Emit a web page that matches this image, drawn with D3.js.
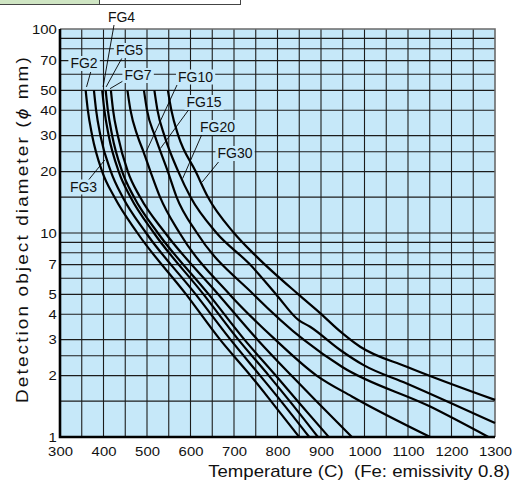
<!DOCTYPE html>
<html>
<head>
<meta charset="utf-8">
<script src="https://cdn.jsdelivr.net/npm/d3@7"></script>
<style>
  body { margin: 0; background: #fff; }
  svg { display: block; font-family: 'Liberation Sans', Arial, Helvetica, sans-serif; }
</style>
</head>
<body>
<svg id="chart" width="514" height="490"></svg>
<script>
// curve data: detection diameter (mm) vs temperature (C)
var fg2D = [50, 40, 30, 20, 15, 10, 5, 3, 2, 1.5, 1];
var fg2T = [359, 364, 374, 397, 425, 478, 590, 668, 738, 785, 850];
var fg3D = [50, 40, 30, 20, 15, 10, 5, 3, 2, 1.5, 1];
var fg3T = [378, 383, 393, 417, 444, 498, 612, 692, 760, 808, 873];
var fg4D = [50, 40, 30, 20, 15, 10, 5, 3, 2, 1.5, 1];
var fg4T = [397, 402, 412, 435, 462, 516, 630, 710, 780, 828, 893];
var fg5D = [50, 40, 30, 20, 15, 10, 5, 3, 2, 1.5, 1];
var fg5T = [405, 410, 420, 443, 470, 525, 642, 724, 796, 846, 918];
var fg7D = [50, 40, 30, 20, 15, 10, 5, 3, 2, 1.5, 1];
var fg7T = [417, 422, 433, 456, 484, 542, 664, 754, 832, 889, 971];
var fg10D = [50, 40, 30, 25, 20, 15, 10, 5, 3, 2, 1.58, 1];
var fg10T = [455, 462, 478, 492, 508, 530, 575, 690, 795, 890, 971, 1151];
var fg15D = [50, 40, 30, 20, 15, 10, 5, 3, 2.21, 1.41, 1];
var fg15T = [493, 500, 518, 548, 568, 615, 745, 860, 948, 1151, 1285];
var fg20D = [50, 40, 30, 20, 15, 10, 7, 5, 3.75, 3.47, 2.67, 2.25, 1.83, 1.17];
var fg20T = [517, 524, 540, 572, 600, 660, 737, 797, 848, 875, 944, 998, 1097, 1300];
var fg30D = [50, 40, 30, 20, 15, 10, 7.66, 5, 4.05, 3.35, 2.77, 2.21, 1.52];
var fg30T = [548, 556, 572, 612, 640, 700, 752, 848, 898, 940, 990, 1097, 1300];

var seriesNames = ['FG2', 'FG3', 'FG4', 'FG5', 'FG7', 'FG10', 'FG15', 'FG20', 'FG30'];
var seriesT = [fg2T, fg3T, fg4T, fg5T, fg7T, fg10T, fg15T, fg20T, fg30T];
var seriesD = [fg2D, fg3D, fg4D, fg5D, fg7D, fg10D, fg15D, fg20D, fg30D];

// pointer tips of the labels, in data units [temperature, diameter]
var labelTips = [[361, 52], [403, 22.8], [399, 52], [406, 52], [415, 51], [498, 25], [531, 26], [582, 18.5], [627, 17.8]];

// ticks and grid
var xTicks = [300, 400, 500, 600, 700, 800, 900, 1000, 1100, 1200, 1300];
var xGrid = [350, 400, 450, 500, 550, 600, 650, 700, 750, 800, 850, 900, 950, 1000, 1050, 1100, 1150, 1200, 1250];
var yTicks = [1, 2, 3, 4, 5, 7, 10, 20, 30, 40, 50, 70, 100];
var yGrid = [1.5, 2, 2.5, 3, 4, 5, 6, 7, 8, 9, 10, 15, 20, 25, 30, 40, 50, 60, 70, 80, 90];

var svg = d3.select('#chart');

var margin = { top: 29, right: 19, bottom: 53, left: 60 };
var width = 514 - margin.left - margin.right;
var height = 490 - margin.top - margin.bottom;

var x = d3.scaleLinear().domain([300, 1300]).range([margin.left, margin.left + width]);
var y = d3.scaleLog().domain([1, 100]).range([margin.top + height, margin.top]);

// header table strip at the very top (cut off)
svg.append('rect').attr('x', -1).attr('y', -10).attr('width', 100.5).attr('height', 14.5)
  .attr('fill', '#cfe5c3').attr('stroke', '#444').attr('stroke-width', 1);
svg.append('rect').attr('x', 99.5).attr('y', -10).attr('width', 141).attr('height', 14.5)
  .attr('fill', '#fff').attr('stroke', '#444').attr('stroke-width', 1);

// plot background
svg.append('rect')
  .attr('x', margin.left).attr('y', margin.top)
  .attr('width', width).attr('height', height)
  .attr('fill', '#c6e8f9');

// grid
var grid = svg.append('g').attr('id', 'grid');
grid.selectAll('line.gx').data(xGrid).enter().append('line')
  .attr('class', 'gx')
  .attr('x1', function(d) { return x(d); }).attr('x2', function(d) { return x(d); })
  .attr('y1', margin.top).attr('y2', margin.top + height)
  .attr('stroke', '#1c1c1c').attr('stroke-width', 1.1);
grid.selectAll('line.gy').data(yGrid).enter().append('line')
  .attr('class', 'gy')
  .attr('y1', function(d) { return y(d); }).attr('y2', function(d) { return y(d); })
  .attr('x1', margin.left).attr('x2', margin.left + width)
  .attr('stroke', '#1c1c1c').attr('stroke-width', 1.1);

// frame: gray top/right
svg.append('path')
  .attr('d', 'M' + margin.left + ',' + margin.top + 'H' + (margin.left + width) + 'V' + (margin.top + height))
  .attr('fill', 'none').attr('stroke', '#6a6a6a').attr('stroke-width', 1.6);

// curves
var line = d3.line()
  .x(function(d) { return x(d[0]); })
  .y(function(d) { return y(d[1]); })
  .curve(d3.curveMonotoneX);

var curves = svg.append('g').attr('id', 'curves');
seriesNames.forEach(function(name, i) {
  var pts = seriesT[i].map(function(t, j) { return [t, seriesD[i][j]]; });
  curves.append('path')
    .datum(pts)
    .attr('d', line)
    .attr('fill', 'none')
    .attr('stroke', '#000')
    .attr('stroke-width', 2.2)
    .attr('stroke-linejoin', 'round');
});

// heavy black left/bottom axis lines
svg.append('path')
  .attr('d', 'M' + margin.left + ',' + margin.top + 'V' + (margin.top + height) + 'H' + (margin.left + width))
  .attr('fill', 'none').attr('stroke', '#000').attr('stroke-width', 2.6);

// axes
var xAxis = d3.axisBottom(x).tickValues(xTicks).tickFormat(d3.format('d')).tickSize(0).tickPadding(9.5);
var xGroup = svg.append('g').attr('transform', 'translate(0,' + (margin.top + height) + ')').call(xAxis);
xGroup.select('.domain').remove();
xGroup.selectAll('text')
  .style('font-size', '13.5px')
  .style('font-family', "'Liberation Sans', Arial, sans-serif")
  .attr('fill', '#111')
  .attr('transform', 'scale(1.1,1)');

var yAxis = d3.axisLeft(y).tickValues(yTicks).tickFormat(d3.format('d')).tickSize(0).tickPadding(3);
var yGroup = svg.append('g').attr('transform', 'translate(' + margin.left + ',0)').call(yAxis);
yGroup.select('.domain').remove();
yGroup.selectAll('text')
  .style('font-size', '13.5px')
  .style('font-family', "'Liberation Sans', Arial, sans-serif")
  .attr('fill', '#111')
  .attr('transform', 'scale(1.1,1)');

// axis titles (the original lettering is wide, so fit it to its measured length)
var xTitle = svg.append('text')
  .text('Temperature (C)  (Fe: emissivity 0.8)')
  .attr('text-anchor', 'end')
  .attr('xml:space', 'preserve')
  .style('font-size', '16px')
  .style('fill', '#111');
var xw = xTitle.node().getComputedTextLength();
xTitle.attr('transform', 'translate(510,477) scale(' + (302 / xw) + ',1)');

var yTitle = svg.append('text')
  .attr('text-anchor', 'middle')
  .style('font-size', '16px')
  .style('letter-spacing', '1.8px')
  .style('fill', '#111');
yTitle.append('tspan').text('Detection object diameter (');
yTitle.append('tspan').text('\u03D5').style('font-style', 'italic');
yTitle.append('tspan').text(' mm)');
var yw = yTitle.node().getComputedTextLength();
yTitle.attr('transform', 'translate(28,229) rotate(-90) scale(' + (348 / yw) + ',1)');

// curve labels: text centre, baseline and pointer start in px
var labelLayout = [
  { cx: 84, by: 68, sx: 90.7, sy: 72, box: true },
  { cx: 83.5, by: 191.5, sx: 88.5, sy: 180, box: true },
  { cx: 121.5, by: 21.5, sx: 114, sy: 25, box: false },
  { cx: 129.5, by: 55, sx: 121.7, sy: 58.5, box: true },
  { cx: 138, by: 80, sx: 123, sy: 81, box: true },
  { cx: 195.5, by: 81.5, sx: 177, sy: 85, box: true },
  { cx: 204, by: 107, sx: 188.5, sy: 110, box: true },
  { cx: 217.5, by: 132, sx: 202.5, sy: 133, box: true },
  { cx: 235, by: 158, sx: 218.5, sy: 162, box: true }
];

var labels = svg.append('g').attr('id', 'labels');
seriesNames.forEach(function(name, i) {
  var l = labelLayout[i];
  var tip = labelTips[i];
  labels.append('line')
    .attr('x1', l.sx).attr('y1', l.sy)
    .attr('x2', x(tip[0])).attr('y2', y(tip[1]))
    .attr('stroke', '#000').attr('stroke-width', 0.9);
  var g = labels.append('g');
  var t = g.append('text')
    .text(name)
    .attr('x', l.cx).attr('y', l.by)
    .attr('text-anchor', 'middle')
    .style('font-size', '14px')
    .style('fill', '#111');
  if (l.box) {
    var b = t.node().getBBox();
    g.insert('rect', 'text')
      .attr('x', b.x - 2).attr('y', b.y + 1)
      .attr('width', b.width + 4).attr('height', b.height - 1)
      .attr('fill', '#c6e8f9');
  }
});
</script>
</body>
</html>
